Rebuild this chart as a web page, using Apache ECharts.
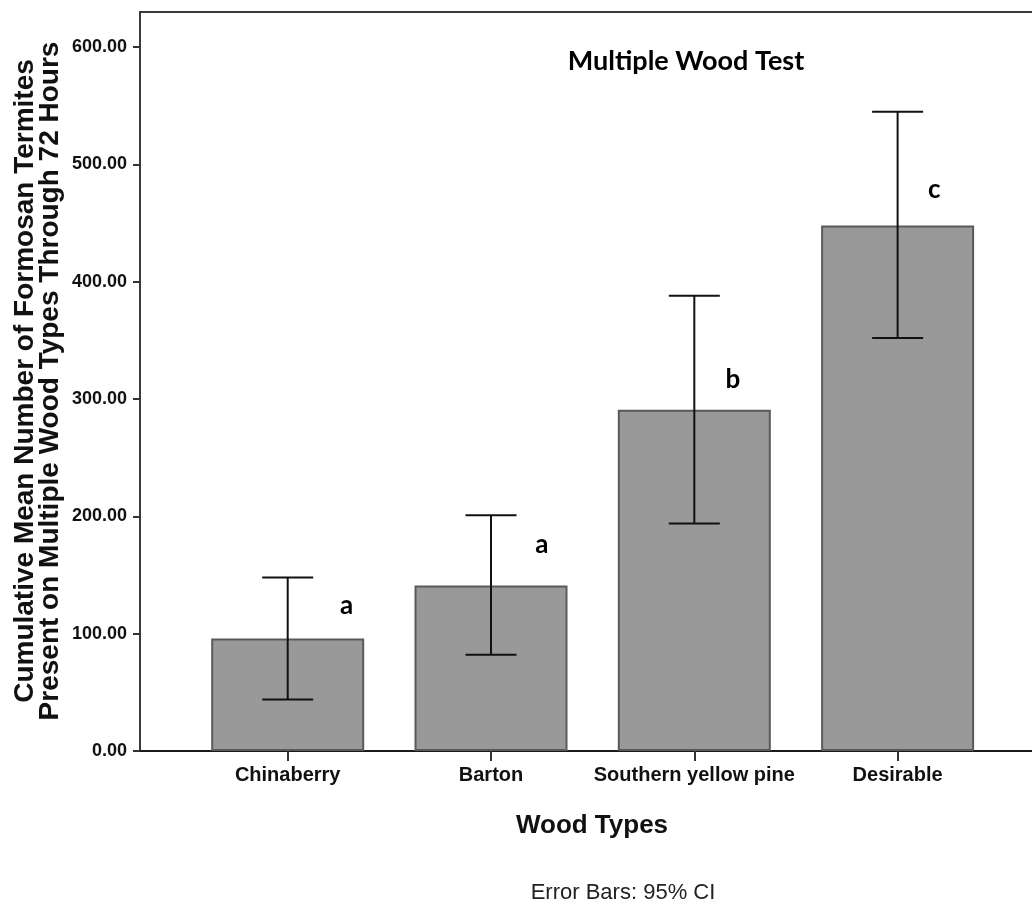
<!DOCTYPE html>
<html>
<head>
<meta charset="utf-8">
<title>Multiple Wood Test</title>
<script src="https://cdn.jsdelivr.net/npm/echarts@6/dist/echarts.min.js"></script>
<style>
  html, body { margin: 0; padding: 0; background: #fff; }
  #chart { width: 1032px; height: 909px; }
</style>
</head>
<body>
<div id="chart"></div>
<script>
// Wood types and cumulative mean termite counts with 95% confidence limits
const categories = ['Chinaberry', 'Barton', 'Southern yellow pine', 'Desirable'];
const means = [96, 141, 291, 448];
const ciLow = [44, 82, 194, 352];
const ciHigh = [148, 201, 388, 545];

// Significance letters and where each one sits (category offset, value)
const letters = ['a', 'a', 'b', 'c'];
const letterShift = [0.29, 0.25, 0.19, 0.18];
const letterAt = [124, 176, 317, 479];

// Value-axis ticks
const yTicks = [0, 100, 200, 300, 400, 500, 600];
const xTicks = [0, 1, 2, 3];

const AXIS_FONT = '"Liberation Sans", Arial, sans-serif';
const NOTE_FONT = 'Lato, "Open Sans", sans-serif';

const chart = echarts.init(document.getElementById('chart'), null, { renderer: 'canvas' });

// The frame runs past the right edge of the canvas, so only its top and left sides show
const X_MIN = -0.7265;
const X_MAX = 3.661;

const option = {
  animation: false,
  backgroundColor: '#ffffff',
  grid: {
    left: 140,
    top: 12,
    right: 0,
    height: 739,
    show: false
  },
  xAxis: [
    {
      type: 'value',
      min: X_MIN,
      max: X_MAX,
      position: 'bottom',
      splitLine: { show: false },
      axisLine: { show: true, onZero: false, lineStyle: { color: '#1a1a1a', width: 2 } },
      axisTick: { show: true, customValues: xTicks, length: 10, lineStyle: { color: '#333', width: 2 } },
      axisLabel: {
        customValues: xTicks,
        formatter: v => categories[Math.round(v)] || '',
        fontFamily: AXIS_FONT,
        fontWeight: 'bold',
        fontSize: 20,
        color: '#111',
        margin: 14
      }
    },
    {
      type: 'value',
      min: X_MIN,
      max: X_MAX,
      position: 'top',
      splitLine: { show: false },
      axisLine: { show: true, onZero: false, lineStyle: { color: '#3a3a3a', width: 2 } },
      axisTick: { show: false },
      axisLabel: { show: false }
    }
  ],
  yAxis: {
    type: 'value',
    min: 0,
    max: 630,
    splitLine: { show: false },
    axisLine: { show: true, onZero: false, lineStyle: { color: '#3a3a3a', width: 2 } },
    axisTick: { show: true, customValues: yTicks, length: 7, lineStyle: { color: '#333', width: 2 } },
    axisLabel: {
      customValues: yTicks,
      formatter: v => v.toFixed(2),
      fontFamily: AXIS_FONT,
      fontWeight: 'bold',
      fontSize: 18,
      color: '#111',
      margin: 13
    }
  },
  graphic: [
    {
      type: 'text',
      x: 38,
      y: 381,
      rotation: Math.PI / 2,
      style: {
        text: 'Cumulative Mean Number of Formosan Termites\nPresent on Multiple Wood Types Through 72 Hours',
        font: 'bold 28px ' + AXIS_FONT,
        fill: '#111',
        align: 'center',
        verticalAlign: 'middle',
        lineHeight: 25
      }
    },
    {
      type: 'text',
      x: 592,
      y: 826,
      style: {
        text: 'Wood Types',
        font: 'bold 26px ' + AXIS_FONT,
        fill: '#111',
        align: 'center',
        verticalAlign: 'middle'
      }
    },
    {
      type: 'text',
      x: 686,
      y: 61,
      style: {
        text: 'Multiple Wood Test',
        font: 'bold 27px ' + NOTE_FONT,
        fill: '#000',
        align: 'center',
        verticalAlign: 'middle'
      }
    },
    {
      type: 'text',
      x: 623,
      y: 893,
      style: {
        text: 'Error Bars: 95% CI',
        font: '22px ' + AXIS_FONT,
        fill: '#222',
        align: 'center',
        verticalAlign: 'middle'
      }
    }
  ],
  series: [
    {
      type: 'bar',
      barWidth: 153,
      data: means.map((m, i) => [i, m]),
      itemStyle: { color: '#999999', borderColor: '#5a5a5a', borderWidth: 2 },
      z: 2
    },
    {
      // 95% confidence interval whiskers
      type: 'custom',
      data: means.map((m, i) => [i, ciLow[i], ciHigh[i]]),
      renderItem: (params, api) => {
        const x = api.value(0);
        const lo = api.coord([x, api.value(1)]);
        const hi = api.coord([x, api.value(2)]);
        const half = 25.5;
        const style = { stroke: '#111', lineWidth: 2 };
        return {
          type: 'group',
          children: [
            { type: 'line', shape: { x1: lo[0], y1: lo[1], x2: hi[0], y2: hi[1] }, style },
            { type: 'line', shape: { x1: lo[0] - half, y1: lo[1], x2: lo[0] + half, y2: lo[1] }, style },
            { type: 'line', shape: { x1: hi[0] - half, y1: hi[1], x2: hi[0] + half, y2: hi[1] }, style }
          ]
        };
      },
      z: 3
    },
    {
      // Group letters from the post-hoc comparison
      type: 'custom',
      data: letters.map((l, i) => [i + letterShift[i], letterAt[i]]),
      renderItem: (params, api) => {
        const p = api.coord([api.value(0), api.value(1)]);
        return {
          type: 'text',
          x: p[0],
          y: p[1],
          style: {
            text: letters[params.dataIndex],
            font: 'bold 26px ' + NOTE_FONT,
            fill: '#000',
            align: 'center',
            verticalAlign: 'middle'
          }
        };
      },
      z: 4
    }
  ]
};

chart.setOption(option);
</script>
</body>
</html>
